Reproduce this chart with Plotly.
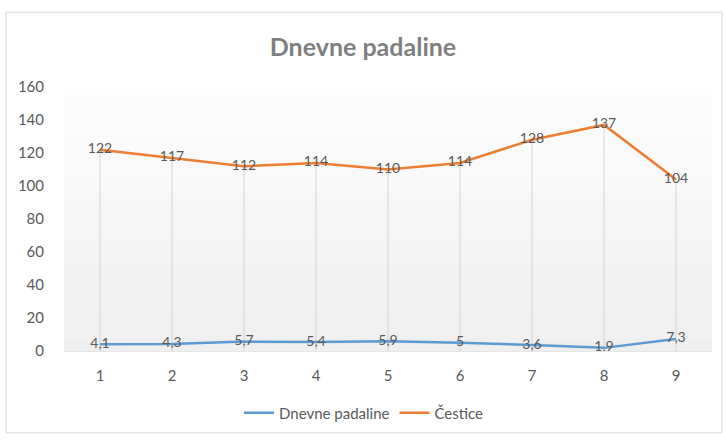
import plotly.graph_objects as go

categories = [1, 2, 3, 4, 5, 6, 7, 8, 9]
padaline = [4.1, 4.3, 5.7, 5.4, 5.9, 5, 3.6, 1.9, 7.3]
cestice = [122, 117, 112, 114, 110, 114, 128, 137, 104]
y_ticks = [0, 20, 40, 60, 80, 100, 120, 140, 160]

def fmt(v):
    return str(v).replace('.', ',')

FONT = "Lato, 'Open Sans', sans-serif"
fig = go.Figure()

# drop lines from the top series down to the axis
dx, dy = [], []
for c, v in zip(categories, cestice):
    dx += [c, c, None]
    dy += [0, v, None]
fig.add_trace(go.Scatter(x=dx, y=dy, mode='lines', line=dict(color='#d4d4d4', width=1),
                         showlegend=False, hoverinfo='skip'))

fig.add_trace(go.Scatter(x=categories, y=padaline, mode='lines+text', name='Dnevne padaline',
                         line=dict(color='#5B9BD5', width=2.5),
                         text=[fmt(v) for v in padaline], textposition='middle center',
                         textfont=dict(color='#595959', size=14, family=FONT)))
fig.add_trace(go.Scatter(x=categories, y=cestice, mode='lines+text', name='Čestice',
                         line=dict(color='#ED7D31', width=2.5),
                         text=[fmt(v) for v in cestice], textposition='middle center',
                         textfont=dict(color='#595959', size=14, family=FONT)))

# subtle vertical gradient background in the plot area
shapes = []
n = 20
for i in range(n):
    t = i / (n - 1)
    g = int(round(253 - 14 * t))
    shapes.append(dict(type='rect', xref='paper', yref='paper', x0=0, x1=1,
                       y0=1 - (i + 1) / n, y1=1 - i / n, line=dict(width=0),
                       fillcolor=f'rgb({g},{g},{g})', layer='below'))
# outer chart border
shapes.append(dict(type='rect', xref='paper', yref='paper', x0=-0.0895, x1=1.0154,
                   y0=-0.3097, y1=1.2836, line=dict(color='#d9d9d9', width=1),
                   fillcolor='rgba(0,0,0,0)', layer='below'))

fig.update_layout(
    width=726, height=441,
    margin=dict(l=64, r=14, t=87, b=86),
    paper_bgcolor='white', plot_bgcolor='white',
    font=dict(family=FONT, color='#595959', size=14),
    title=dict(text='<b>Dnevne padaline</b>', x=0.5, xanchor='center', y=1 - 47 / 441, yanchor='middle',
               yref='container', font=dict(size=25, color='#7f7f7f', family=FONT)),
    showlegend=True,
    legend=dict(orientation='h', x=0.463, xanchor='center', y=-0.235, yanchor='middle',
                font=dict(size=15, color='#595959', family=FONT), bgcolor='rgba(0,0,0,0)'),
    shapes=shapes,
    xaxis=dict(range=[0.5, 9.5], tickvals=categories, ticktext=[str(c) for c in categories],
               showgrid=False, zeroline=False, showline=False, ticks='',
               tickfont=dict(size=15, color='#595959'), ticklabelstandoff=14),
    yaxis=dict(range=[0, 160], tickvals=y_ticks, showgrid=False, zeroline=True,
               zerolinecolor='#e6e6e6', zerolinewidth=1, showline=False, ticks='',
               tickfont=dict(size=15, color='#595959'), ticklabelstandoff=19),
)

fig.write_html("out.html", config={'displayModeBar': False},
               post_script="document.body.style.margin='0';document.body.style.overflow='hidden';")
